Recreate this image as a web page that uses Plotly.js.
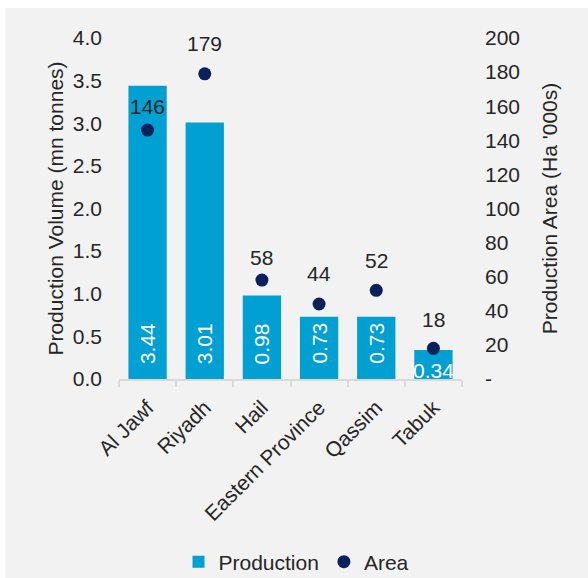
<!DOCTYPE html>
<html><head><meta charset="utf-8">
<script src="https://cdn.plot.ly/plotly-3.0.1.min.js"></script>
<style>
html,body{margin:0;padding:0;background:#ffffff;overflow:hidden;}
#chart{position:absolute;left:5px;top:8px;width:583px;height:570px;}
</style></head>
<body><div id="chart"></div>
<script>
const regions = ["Al Jawf","Riyadh","Hail","Eastern Province","Qassim","Tabuk"];
const production = [3.44, 3.01, 0.98, 0.73, 0.73, 0.34];
const area = [146, 179, 58, 44, 52, 18];
const leftTicks = [0,0.5,1,1.5,2,2.5,3,3.5,4];
const rightTickVals = [0,20,40,60,80,100,120,140,160,180,200];
const rightTickText = ["-","20","40","60","80","100","120","140","160","180","200"];

const FONT = "Liberation Sans, Arial, sans-serif";
const FS = 21;
const TXT = "#262626";
const barColor = "#00a0d2";
const dotColor = "#0a215c";
const areaLabelShift = [24, 30, 23, 30, 30, 29];

const prodLabels = production.map(v => v.toFixed(2));

const traces = [
  {
    type: "bar", name: "Production", x: regions, y: production,
    marker: {color: barColor}, hoverinfo: "skip"
  },
  {
    type: "scatter", mode: "markers", name: "Area", x: regions, y: area, yaxis: "y2",
    marker: {color: dotColor, size: 13}, cliponaxis: false, hoverinfo: "skip"
  }
];

const annotations = [];
area.forEach((v,i) => annotations.push({
  x: regions[i], y: v, xref: "x", yref: "y2", text: String(v),
  showarrow: false, yanchor: "middle", yshift: areaLabelShift[i],
  font: {size: FS, color: TXT, family: FONT}
}));
production.forEach((v,i) => {
  if (v >= 0.5) annotations.push({
    x: regions[i], y: 0, xref: "x", yref: "y", text: prodLabels[i], textangle: -90,
    showarrow: false, yanchor: "bottom", yshift: 13, font: {size: FS, color: "#ffffff", family: FONT}
  });
  else annotations.push({
    x: regions[i], y: 0, xref: "x", yref: "y", text: prodLabels[i],
    showarrow: false, yanchor: "middle", yshift: 9, font: {size: FS, color: "#ffffff", family: FONT}
  });
});

const layout = {
  width: 583, height: 570,
  paper_bgcolor: "#f2f2f2", plot_bgcolor: "#f2f2f2",
  margin: {l: 114, r: 126, t: 30, b: 199},
  font: {family: FONT, size: FS, color: TXT},
  bargap: 0.33,
  showlegend: true,
  legend: {orientation: "h", x: 0.5, xref: "container", xanchor: "center",
           y: 0.028, yref: "container", yanchor: "middle",
           font: {size: FS, color: TXT}, itemwidth: 30, traceorder: "normal"},
  xaxis: {
    type: "category", tickangle: -45, showline: true, linecolor: "#d9d9d9", linewidth: 2,
    ticks: "outside", tickson: "boundaries", ticklen: 6, tickcolor: "#d9d9d9", tickwidth: 2,
    ticklabelstandoff: 6,
    showgrid: false, automargin: false, tickfont: {size: FS, color: TXT}
  },
  yaxis: {
    range: [0, 4], tickvals: leftTicks, tickformat: ".1f", showgrid: false, zeroline: false,
    showline: false, ticks: "", ticklabelstandoff: 16, automargin: false,
    title: {text: "Production Volume (mn tonnes)", font: {size: FS, color: TXT}, standoff: 3}
  },
  yaxis2: {
    range: [0, 200], overlaying: "y", side: "right", tickvals: rightTickVals, ticktext: rightTickText,
    showgrid: false, zeroline: false, showline: false, ticks: "", ticklabelstandoff: 22, automargin: false,
    title: {text: "Production Area (Ha '000s)", font: {size: FS, color: TXT}, standoff: 23}
  },
  annotations: annotations
};

Plotly.newPlot("chart", traces, layout, {displayModeBar: false, staticPlot: true});
</script></body></html>
